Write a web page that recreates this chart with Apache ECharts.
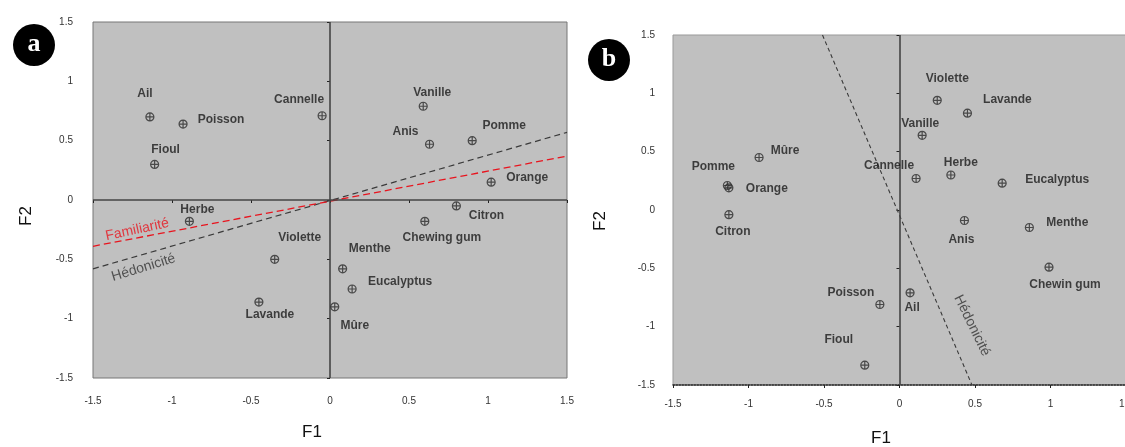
<!DOCTYPE html>
<html>
<head>
<meta charset="utf-8">
<script src="https://cdn.jsdelivr.net/npm/echarts@6/dist/echarts.min.js"></script>
<style>
html,body{margin:0;padding:0;background:#fff;overflow:hidden;}
#chart{width:1125px;height:447px;}
</style>
</head>
<body>
<div id="chart"></div>
<script>
// ---------- DATA ----------
const ticksA = [-1.5, -1, -0.5, 0, 0.5, 1, 1.5];
const namesA = ['Ail','Poisson','Fioul','Cannelle','Vanille','Anis','Pomme','Orange','Herbe','Violette','Lavande','Citron','Chewing gum','Menthe','Eucalyptus','Mûre'];
const f1A = [-1.14,-0.93,-1.11,-0.05,0.59,0.63,0.90,1.02,-0.89,-0.35,-0.45,0.80,0.60,0.08,0.14,0.03];
const f2A = [0.70,0.64,0.30,0.71,0.79,0.47,0.50,0.15,-0.18,-0.50,-0.86,-0.05,-0.18,-0.58,-0.75,-0.90];
const hedoA = [[-1.5,-0.58],[1.5,0.57]];
const famiA = [[-1.5,-0.39],[1.5,0.37]];

const namesB = ['Violette','Lavande','Vanille','Cannelle','Herbe','Eucalyptus','Anis','Menthe','Chewin gum','Poisson','Ail','Fioul','Mûre','Pomme','Orange','Citron'];
const f1B = [0.25,0.45,0.15,0.11,0.34,0.68,0.43,0.86,0.99,-0.13,0.07,-0.23,-0.93,-1.14,-1.13,-1.13];
const f2B = [0.94,0.83,0.64,0.27,0.30,0.23,-0.09,-0.15,-0.49,-0.81,-0.71,-1.33,0.45,0.21,0.19,-0.04];
const hedoB = [[-0.51,1.5],[0.48,-1.5]];

const lineLabelsA = [['Hédonicité',-1.18,-0.57],['Familiarité',-1.22,-0.25]];
const lineLabelsB = [['Hédonicité',0.48,-0.99]];

// ---------- LAYOUT (label offsets in px, relative to marker) ----------
const offA = {'Ail':[-5,-23],'Poisson':[38,-4],'Fioul':[11,-15],'Cannelle':[-23,-16],'Vanille':[9,-14],'Anis':[-24,-13],'Pomme':[32,-15],'Orange':[36,-5],'Herbe':[8,-12],'Violette':[25,-22],'Lavande':[11,13],'Citron':[30,10],'Chewing gum':[17,16],'Menthe':[27,-20],'Eucalyptus':[48,-7],'Mûre':[20,19]};
const offB = {'Violette':[10,-22],'Lavande':[40,-13],'Vanille':[-2,-12],'Cannelle':[-27,-13],'Herbe':[10,-12],'Eucalyptus':[55,-3],'Anis':[-3,19],'Menthe':[38,-5],'Chewin gum':[16,18],'Poisson':[-29,-12],'Ail':[2,15],'Fioul':[-26,-25],'Mûre':[26,-7],'Pomme':[-14,-19],'Orange':[38,1],'Citron':[4,17]};

const marker = 'path://M0,5 A5,5 0 1,1 10,5 A5,5 0 1,1 0,5 Z M5,0 L5,10 M0,5 L10,5';
const FONT = 'Liberation Sans, Arial, sans-serif';

function pts(names, xs, ys, offs){
  return names.map((n,i)=>({
    name:n, value:[xs[i], ys[i]],
    label:{offset: offs[n] || [0,-12]}
  }));
}
function axisCommon(extra){
  return Object.assign({
    type:'value', min:-1.5, max:1.5, interval:0.5,
    splitLine:{show:false},
    axisLine:{show:false},
    axisTick:{show:true, inside:false, length:3, lineStyle:{color:'#222'}},
    axisLabel:{color:'#333', fontSize:10, fontFamily:FONT},
  }, extra);
}
const scatterLabel = {
  show:true, position:'inside', formatter:'{b}',
  color:'#1a1a1a', fontSize:12, fontWeight:'bold', fontFamily:FONT,
  align:'center', verticalAlign:'middle'
};
const zeroLines = (both)=>({
  silent:true, symbol:'none', label:{show:false},
  lineStyle:{color:'#444', width:1.6, type:'solid'},
  data: both ? [{xAxis:0},{yAxis:0}] : [{xAxis:0}]
});
const nameFont = '17px "Liberation Sans", Arial, sans-serif';

const chart = echarts.init(document.getElementById('chart'), null, {renderer:'canvas'});
chart.setOption({
  animation:false,
  backgroundColor:'#fff',
  grid:[
    {left:93, top:22, width:474, height:356, show:true, backgroundColor:'#c0c0c0', borderColor:'#777', borderWidth:1, outerBoundsMode:'none', containLabel:false},
    {left:673, top:35, width:453, height:350, show:true, backgroundColor:'#c0c0c0', borderColor:'#999', borderWidth:1, outerBoundsMode:'none', containLabel:false}
  ],
  xAxis:[
    axisCommon({gridIndex:0, axisLabel:{color:'#333', fontSize:10, fontFamily:FONT, margin:18}}),
    axisCommon({gridIndex:1,
      axisLine:{show:true, onZero:false, lineStyle:{color:'#222', type:'dotted', width:1.5}},
      axisLabel:{color:'#333', fontSize:10, fontFamily:FONT, margin:14}})
  ],
  yAxis:[
    axisCommon({gridIndex:0, axisLabel:{color:'#333', fontSize:10, fontFamily:FONT, margin:20}}),
    axisCommon({gridIndex:1, axisLabel:{color:'#333', fontSize:10, fontFamily:FONT, margin:18}})
  ],
  series:[
    {type:'line', xAxisIndex:0, yAxisIndex:0, data:hedoA, symbol:'none', silent:true,
      lineStyle:{color:'#3a3a3a', width:1.2, type:[6,4]}, markLine:zeroLines(true), z:3},
    {type:'line', xAxisIndex:0, yAxisIndex:0, data:famiA, symbol:'none', silent:true,
      lineStyle:{color:'#e8141e', width:1.3, type:[7,4]}, z:3},
    {type:'scatter', xAxisIndex:0, yAxisIndex:0, data:pts(namesA,f1A,f2A,offA),
      symbol:marker, symbolSize:8,
      itemStyle:{color:'rgba(0,0,0,0)', borderColor:'#2a2a2a', borderWidth:1.2},
      label:scatterLabel, z:5},
    {type:'scatter', xAxisIndex:0, yAxisIndex:0, symbolSize:0, silent:true,
      data:lineLabelsA.map(d=>({name:d[0], value:[d[1],d[2]],
        label:{rotate: d[0]==='Familiarité'?12:17, color: d[0]==='Familiarité'?'#e8141e':'#333'}})),
      label:{show:true, position:'inside', formatter:'{b}', fontSize:14, fontFamily:FONT, align:'center', verticalAlign:'middle'}, z:6},

    {type:'line', xAxisIndex:1, yAxisIndex:1, data:hedoB, symbol:'none', silent:true,
      lineStyle:{color:'#3a3a3a', width:1.1, type:[4,3]}, markLine:zeroLines(false), z:3},
    {type:'scatter', xAxisIndex:1, yAxisIndex:1, data:pts(namesB,f1B,f2B,offB),
      symbol:marker, symbolSize:8,
      itemStyle:{color:'rgba(0,0,0,0)', borderColor:'#2a2a2a', borderWidth:1.2},
      label:scatterLabel, z:5},
    {type:'scatter', xAxisIndex:1, yAxisIndex:1, symbolSize:0, silent:true,
      data:lineLabelsB.map(d=>({name:d[0], value:[d[1],d[2]]})),
      label:{show:true, position:'inside', formatter:'{b}', rotate:-64, color:'#333', fontSize:14, fontFamily:FONT, align:'center', verticalAlign:'middle'}, z:6}
  ],
  graphic:[
    {type:'circle', shape:{cx:34, cy:45, r:21}, style:{fill:'#000'}, z:10},
    {type:'text', x:34, y:44, style:{text:'a', fill:'#fff', font:'bold 26px "Liberation Serif", serif', align:'center', verticalAlign:'middle'}, z:11},
    {type:'circle', shape:{cx:609, cy:60, r:21}, style:{fill:'#000'}, z:10},
    {type:'text', x:609, y:59, style:{text:'b', fill:'#fff', font:'bold 26px "Liberation Serif", serif', align:'center', verticalAlign:'middle'}, z:11},
    {type:'text', x:312, y:432, style:{text:'F1', fill:'#111', font:nameFont, align:'center', verticalAlign:'middle'}},
    {type:'text', x:881, y:438, style:{text:'F1', fill:'#111', font:nameFont, align:'center', verticalAlign:'middle'}},
    {type:'text', x:26, y:216, rotation:Math.PI/2, style:{text:'F2', fill:'#111', font:nameFont, align:'center', verticalAlign:'middle'}},
    {type:'text', x:600, y:221, rotation:Math.PI/2, style:{text:'F2', fill:'#111', font:nameFont, align:'center', verticalAlign:'middle'}}
  ]
});
</script>
</body>
</html>
